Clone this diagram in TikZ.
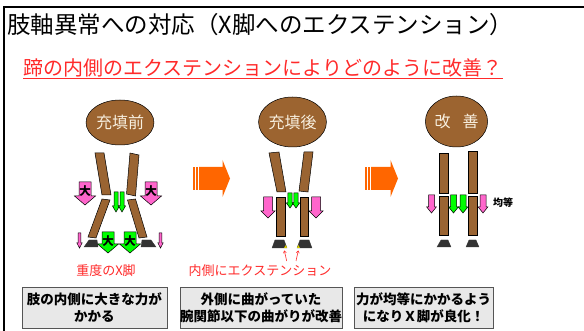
\documentclass[tikz,border=0pt]{standalone}
\usepackage{fontspec}
\newfontfamily\jp{Noto Sans CJK JP}
\usetikzlibrary{shapes.geometric,arrows.meta}

\definecolor{legbrown}{HTML}{9A6432}
\definecolor{headbrown}{HTML}{9C6430}
\definecolor{hoofgray}{HTML}{333333}
\definecolor{pinkfill}{HTML}{FF66CC}
\definecolor{greenfill}{HTML}{00FF00}
\definecolor{orangefill}{HTML}{FF6600}
\definecolor{labelred}{HTML}{FF2A2A}
\definecolor{boxfill}{HTML}{E8E8E8}
\definecolor{boxline}{HTML}{555555}
\definecolor{headtext}{HTML}{F8F0E0}

% downward block arrow: style, x, top, bottom, shaft half width, head half width, head length
\newcommand\DnArrow[7]{%
  \draw[#1] ({#2-#5},#3) -- ({#2+#5},#3) -- ({#2+#5},{#4-#7}) -- ({#2+#6},{#4-#7})
    -- (#2,#4) -- ({#2-#6},{#4-#7}) -- ({#2-#5},{#4-#7}) -- cycle;}

% striped right arrow: left x, head start x, tip x, centre y
\newcommand\StripedArrow[4]{%
  \fill[orangefill] (#1,{#4-11.5}) rectangle ({#1+1.5},{#4+11.5});
  \fill[orangefill] ({#1+3},{#4-11.5}) rectangle ({#1+4.5},{#4+11.5});
  \fill[orangefill] ({#1+6},{#4-11.5}) -- (#2,{#4-11.5}) -- (#2,{#4-18.5}) -- (#3,#4)
    -- (#2,{#4+18.5}) -- (#2,{#4+11.5}) -- ({#1+6},{#4+11.5}) -- cycle;}

\tikzset{
  leg/.style={fill=legbrown, draw=black, line width=0.5pt},
  hoof/.style={fill=hoofgray, draw=hoofgray, line width=0.3pt},
  pinkarrow/.style={fill=pinkfill, draw=black, line width=0.5pt, line join=miter},
  greenarrow/.style={fill=greenfill, draw=black, line width=0.5pt, line join=miter},
  head/.style={ellipse, fill=headbrown, draw=black, line width=0.5pt, inner sep=0pt,
    text=headtext, font=\jp\fontsize{16}{16}\selectfont},
  note/.style={draw=boxline, fill=boxfill, line width=0.9pt, align=center, inner sep=0pt,
    minimum height=41pt, font=\jp\bfseries\fontsize{13.5}{17}\selectfont},
  redlabel/.style={text=labelred, inner sep=0pt, font=\jp\fontsize{13}{13}\selectfont},
  bigmark/.style={inner sep=0pt, font=\jp\bfseries\fontsize{11.5}{11.5}\selectfont},
  evenmark/.style={inner sep=0pt, font=\jp\bfseries\fontsize{10}{10}\selectfont},
}

\begin{document}
\begin{tikzpicture}[x=1pt,y=-1pt]
\useasboundingbox (0,0) rectangle (584,331);

% frame
\draw[line width=2.2pt] (584,7) -- (4,7) -- (4,331);

% headings
\node[anchor=west, inner sep=0pt, font=\jp\fontsize{23.5}{23.5}\selectfont] (title) at (7,25)
  {肢軸異常への対応（X脚へのエクステンション）};
\node[inner sep=0pt, text=labelred, font=\jp\fontsize{20}{20}\selectfont] (subtitle) at (263,68)
  {蹄の内側のエクステンションによりどのように改善？};
\draw[labelred, line width=0.9pt] ([yshift=-3pt]subtitle.base west) -- ([yshift=-3pt]subtitle.base east);

% ---------- before filling ----------
\node[head, minimum width=60pt, minimum height=45pt] (head1) at (120,122.5) {充填前};
\draw[leg] (95,153) -- (104,153) -- (111,195) -- (102,195) -- cycle;
\draw[leg] (130,153) -- (139,155) -- (135.5,196) -- (126.5,194) -- cycle;
\draw[leg] (102,199) -- (110,200) -- (96,238) -- (88,237) -- cycle;
\draw[leg] (127.5,200) -- (135.5,199) -- (147,237) -- (139,238) -- cycle;
\draw[hoof] (89,240) -- (97,240) -- (98,247) -- (84,247) -- cycle;
\draw[hoof] (142,240) -- (151,240) -- (156,247) -- (141,247) -- cycle;

\DnArrow{pinkarrow}{85}{182}{205}{6}{10.5}{9}
\DnArrow{pinkarrow}{151}{182}{205}{6}{10.5}{9}
\node[bigmark] (big1) at (85,191) {大};
\node[bigmark] (big2) at (151,191) {大};
\DnArrow{greenarrow}{116}{192}{212}{2}{3.5}{6}
\DnArrow{greenarrow}{122}{192}{212}{2}{3.5}{6}
\DnArrow{pinkarrow}{79.5}{233}{248}{1.3}{2.6}{5}
\DnArrow{pinkarrow}{160.5}{233}{248}{1.3}{2.6}{5}
\DnArrow{greenarrow}{108}{232}{253}{6}{10.5}{9}
\DnArrow{greenarrow}{130}{232}{253}{6}{10.5}{9}
\node[bigmark] (big3) at (108,241) {大};
\node[bigmark] (big4) at (130,241) {大};

\node[redlabel] (label1) at (106,271) {重度のX脚};

% ---------- after filling ----------
\StripedArrow{193}{222.5}{230}{178.5}

\node[head, minimum width=59pt, minimum height=50pt] (head2) at (292.5,122) {充填後};
\draw[leg] (269,153) -- (279,152) -- (286,192) -- (277,192) -- cycle;
\draw[leg] (304,152) -- (313,152) -- (308,192) -- (299,191) -- cycle;
\draw[leg] (276,197) rectangle (285,236);
\draw[leg] (300,197) rectangle (308.5,236);
\draw[hoof] (275,240) -- (284,240) -- (287,248) -- (272,248) -- cycle;
\draw[hoof] (300,240) -- (309,240) -- (312,248) -- (297,248) -- cycle;
\fill[yellow!70!olive] (284,248) -- (287,248) -- (285.8,245) -- cycle;
\fill[yellow!70!olive] (297,248) -- (300,248) -- (298.2,245) -- cycle;

\DnArrow{pinkarrow}{268}{197}{218}{4.5}{7}{7}
\DnArrow{pinkarrow}{316}{197}{218}{4.5}{7}{7}
\DnArrow{greenarrow}{290}{193}{208}{2.2}{3.6}{5}
\DnArrow{greenarrow}{296}{193}{208}{2.2}{3.6}{5}

\node[redlabel] (label2) at (260,271) {内側にエクステンション};
\coordinate (inL) at (284.3,250.5);
\coordinate (inR) at (298.3,250.5);
\draw[labelred, line width=0.6pt, -{Straight Barb[length=2pt,width=3pt]}] (286.7,261) -- (inL);
\draw[labelred, line width=0.6pt, -{Straight Barb[length=2pt,width=3pt]}] (296,261) -- (inR);

% ---------- improved ----------
\StripedArrow{365}{390.5}{398}{178.5}

\node[head, minimum width=61pt, minimum height=51pt] (head3) at (456.5,121.5) {改\hspace{0.75em}善};
\draw[leg] (439,153) rectangle (448,193);
\draw[leg] (468,151) rectangle (477,193);
\draw[leg] (439,196) rectangle (448,235);
\draw[leg] (468,196) rectangle (477,235);
\draw[hoof] (441,240) -- (448,240) -- (451,247) -- (437,247) -- cycle;
\draw[hoof] (469,240) -- (476,240) -- (479,247) -- (466,247) -- cycle;

\DnArrow{pinkarrow}{431.5}{195}{213}{3}{4.8}{6}
\DnArrow{pinkarrow}{483}{195}{213}{3}{4.8}{6}
\DnArrow{greenarrow}{453.5}{195}{213}{3}{4.8}{6}
\DnArrow{greenarrow}{463}{195}{213}{3}{4.8}{6}
\node[evenmark] (even) at (503,203) {均等};

% ---------- notes ----------
\node[note, minimum width=145pt] (note1) at (94.5,307.5) {肢の内側に大きな力が\\かかる};
\node[note, minimum width=162pt] (note2) at (261,307.5) {外側に曲がっていた\\腕関節以下の曲がりが改善};
\node[note, minimum width=139pt] (note3) at (423.5,307.5) {力が均等にかかるよう\\になりＸ脚が良化！};
\end{tikzpicture}
\end{document}
